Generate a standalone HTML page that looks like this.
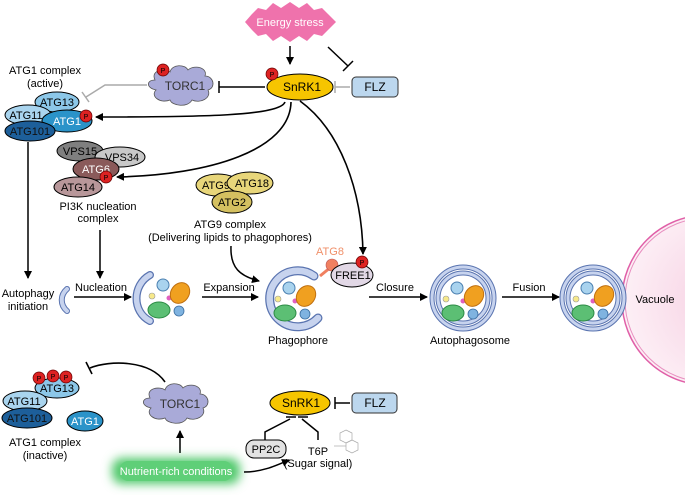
<!DOCTYPE html>
<html><head><meta charset="utf-8"><style>
body{margin:0;background:#fff}
svg{display:block;font-family:"Liberation Sans",Arial,sans-serif}
</style></head><body>
<svg width="685" height="495" viewBox="0 0 685 495" xmlns="http://www.w3.org/2000/svg">
<defs>
<marker id="ar" markerWidth="8" markerHeight="8" refX="7" refY="4" orient="auto" markerUnits="userSpaceOnUse"><path d="M0,0 L8,4 L0,8 z" fill="#000"/></marker>
<filter id="glow" x="-30%" y="-60%" width="160%" height="220%"><feGaussianBlur stdDeviation="5"/></filter>
<radialGradient id="vg" cx="0.6" cy="0.5" r="0.6"><stop offset="0" stop-color="#f6cfe2"/><stop offset="1" stop-color="#fdf0f6"/></radialGradient>
<g id="cargo">
<circle cx="-8" cy="-14" r="6" fill="#a9d3ee" stroke="#4a7fb0" stroke-width="1"/>
<circle cx="-19" cy="-3" r="3" fill="#f7e98a" stroke="#999" stroke-width="0.6"/>
<circle cx="-2" cy="-1" r="2.5" fill="#e060c0"/>
<ellipse cx="9" cy="-6" rx="9" ry="11" transform="rotate(35 9 -6)" fill="#f0a020" stroke="#c07010"/>
<ellipse cx="-12" cy="11" rx="11" ry="8" fill="#5cbf74" stroke="#2c8a44"/>
<circle cx="8" cy="12" r="5" fill="#7fb3e0" stroke="#3a6ea0" stroke-width="0.8"/>
</g>
<g id="ring">
<circle r="31" fill="none" stroke="#5a74b0" stroke-width="5"/>
<circle r="31" fill="none" stroke="#c7d3ee" stroke-width="3"/>
<circle r="25" fill="none" stroke="#5a74b0" stroke-width="5"/>
<circle r="25" fill="none" stroke="#c7d3ee" stroke-width="3"/>
</g>
</defs>

<!-- Energy stress -->
<path d="M245,22 L252,14 L258,8 L266,10 L273,3 L281,8 L290,2 L299,8 L307,3 L314,10 L322,8 L328,14 L336,22 L328,30 L322,36 L314,34 L307,41 L299,36 L290,42 L281,36 L273,41 L266,34 L258,36 L252,30 Z" fill="#ef72ac"/>
<text x="290" y="26" fill="#fff" font-size="11" text-anchor="middle">Energy stress</text>
<line x1="290" y1="46" x2="290" y2="64" stroke="#000" stroke-width="1.5" marker-end="url(#ar)"/>
<line x1="328" y1="47" x2="348" y2="66" stroke="#000" stroke-width="1.5"/>
<line x1="343" y1="71" x2="353" y2="61" stroke="#000" stroke-width="1.5"/>

<!-- SnRK1 top -->
<ellipse cx="300" cy="87" rx="33" ry="13" fill="#f6c500" stroke="#000"/>
<text x="302" y="91" font-size="12" text-anchor="middle">SnRK1</text>
<circle cx="272" cy="74" r="6" fill="#d22" stroke="#600" stroke-width=".7"/><text x="272" y="77" font-size="7" text-anchor="middle">P</text>
<rect x="352" y="77" width="46" height="20" rx="4" fill="#bcd7ee" stroke="#333"/>
<text x="375" y="91" font-size="12" text-anchor="middle">FLZ</text>
<line x1="350" y1="87" x2="335" y2="87" stroke="#aaa" stroke-width="1.5"/><line x1="335" y1="81" x2="335" y2="93" stroke="#aaa" stroke-width="1.5"/>

<!-- TORC1 top -->
<path d="M155,80 C150,70 165,68 170,72 C172,64 185,64 188,70 C195,64 208,68 205,76 C214,76 216,88 208,90 C212,98 200,104 192,100 C188,108 172,106 170,100 C160,104 150,96 156,90 C146,88 146,80 155,80 Z" fill="#a9aad8" stroke="#555" stroke-width=".8"/>
<text x="185" y="90" font-size="12" text-anchor="middle" fill="#333">TORC1</text>
<circle cx="163" cy="70" r="6" fill="#d22" stroke="#600" stroke-width=".7"/><text x="163" y="73" font-size="7" text-anchor="middle">P</text>
<line x1="265" y1="87" x2="219" y2="87" stroke="#000" stroke-width="1.5"/><line x1="219" y1="81" x2="219" y2="93" stroke="#000" stroke-width="1.5"/>
<polyline points="147,85 105,85 86,97" fill="none" stroke="#aaa" stroke-width="1.5"/><line x1="82" y1="92" x2="89" y2="102" stroke="#aaa" stroke-width="1.5"/>

<!-- ATG1 active -->
<text x="45" y="74" font-size="11" text-anchor="middle">ATG1 complex</text>
<text x="45" y="87" font-size="11" text-anchor="middle">(active)</text>
<ellipse cx="57" cy="102" rx="22" ry="10" fill="#8cc7e8" stroke="#000"/><text x="57" y="106" font-size="11" text-anchor="middle">ATG13</text>
<ellipse cx="28" cy="115" rx="23" ry="10" fill="#a9d4ee" stroke="#000"/><text x="26" y="119" font-size="11" text-anchor="middle">ATG11</text>
<ellipse cx="67" cy="121" rx="25" ry="11" fill="#2b93c9" stroke="#000"/><text x="67" y="125" font-size="11" fill="#fff" text-anchor="middle">ATG1</text>
<ellipse cx="30" cy="131" rx="25" ry="10" fill="#1d5f9a" stroke="#000"/><text x="30" y="135" font-size="11" text-anchor="middle" fill="#111">ATG101</text>
<circle cx="86" cy="116" r="6" fill="#d22" stroke="#600" stroke-width=".7"/><text x="86" y="119" font-size="7" text-anchor="middle">P</text>
<path d="M285,102 C280,116 200,117 96,117" fill="none" stroke="#000" stroke-width="1.6" marker-end="url(#ar)"/>

<!-- PI3K -->
<ellipse cx="80" cy="151" rx="23" ry="10" fill="#7f7f7f" stroke="#000"/><text x="80" y="155" font-size="11" text-anchor="middle">VPS15</text>
<ellipse cx="120" cy="157" rx="25" ry="10" fill="#c8c8c8" stroke="#000"/><text x="122" y="161" font-size="11" text-anchor="middle">VPS34</text>
<ellipse cx="96" cy="169" rx="23" ry="11" fill="#8a5a5a" stroke="#000"/><text x="96" y="173" font-size="11" fill="#fff" text-anchor="middle">ATG6</text>
<ellipse cx="78" cy="187" rx="24" ry="10" fill="#b8979a" stroke="#000"/><text x="78" y="191" font-size="11" text-anchor="middle">ATG14</text>
<circle cx="106" cy="177" r="6" fill="#d22" stroke="#600" stroke-width=".7"/><text x="106" y="180" font-size="7" text-anchor="middle">P</text>
<path d="M291,102 C290,150 210,175 117,177" fill="none" stroke="#000" stroke-width="1.6" marker-end="url(#ar)"/>
<text x="98" y="210" font-size="11" text-anchor="middle">PI3K nucleation</text>
<text x="98" y="222" font-size="11" text-anchor="middle">complex</text>

<!-- ATG9 -->
<ellipse cx="218" cy="185" rx="22" ry="11" fill="#e8d67a" stroke="#000"/><text x="216" y="189" font-size="11" text-anchor="middle">ATG9</text>
<ellipse cx="250" cy="183" rx="23" ry="11" fill="#e8d67a" stroke="#000"/><text x="252" y="187" font-size="11" text-anchor="middle">ATG18</text>
<ellipse cx="232" cy="202" rx="20" ry="11" fill="#d4c060" stroke="#000"/><text x="232" y="206" font-size="11" text-anchor="middle">ATG2</text>
<text x="230" y="228" font-size="11" text-anchor="middle">ATG9 complex</text>
<text x="230" y="241" font-size="11" text-anchor="middle">(Delivering lipids to phagophores)</text>
<path d="M231,246 C230,268 240,276 259,281" fill="none" stroke="#000" stroke-width="1.5" marker-end="url(#ar)"/>

<!-- SnRK1 -> FREE1 -->
<path d="M300,101 C340,130 362,190 363,254" fill="none" stroke="#000" stroke-width="1.6" marker-end="url(#ar)"/>

<!-- left verticals -->
<line x1="28" y1="142" x2="28" y2="278" stroke="#000" stroke-width="1.5" marker-end="url(#ar)"/>
<line x1="100" y1="230" x2="100" y2="278" stroke="#000" stroke-width="1.5" marker-end="url(#ar)"/>
<text x="28" y="297" font-size="11" text-anchor="middle">Autophagy</text>
<text x="28" y="310" font-size="11" text-anchor="middle">initiation</text>
<path d="M67,289 C60,295 60,305 67,311" fill="none" stroke="#5a74b0" stroke-width="6" stroke-linecap="round"/>
<path d="M67,289 C60,295 60,305 67,311" fill="none" stroke="#c7d3ee" stroke-width="4" stroke-linecap="round"/>
<text x="101" y="291" font-size="11" text-anchor="middle">Nucleation</text>
<line x1="74" y1="297" x2="131" y2="297" stroke="#000" stroke-width="1.5" marker-end="url(#ar)"/>

<!-- stage: crescent -->
<path d="M150,275 C132,285 132,312 150,321" fill="none" stroke="#5a74b0" stroke-width="8" stroke-linecap="round"/>
<path d="M150,275 C132,285 132,312 150,321" fill="none" stroke="#c7d3ee" stroke-width="5.5" stroke-linecap="round"/>
<use href="#cargo" x="171" y="299"/>
<text x="229" y="291" font-size="11" text-anchor="middle">Expansion</text>
<line x1="202" y1="297" x2="258" y2="297" stroke="#000" stroke-width="1.5" marker-end="url(#ar)"/>

<!-- Phagophore -->
<path d="M314,276 A28,28 0 1,0 318,318" fill="none" stroke="#5a74b0" stroke-width="9" stroke-linecap="round"/>
<path d="M314,276 A28,28 0 1,0 318,318" fill="none" stroke="#c7d3ee" stroke-width="6.5" stroke-linecap="round"/>
<use href="#cargo" x="297" y="302"/>
<text x="298" y="344" font-size="11" text-anchor="middle">Phagophore</text>
<line x1="320" y1="276" x2="331" y2="267" stroke="#f08060" stroke-width="3"/>
<circle cx="332" cy="265" r="6" fill="#f08060" stroke="#b55" stroke-width=".6"/>
<ellipse cx="352" cy="275" rx="21" ry="12" fill="#e2d8e6" stroke="#000"/><text x="353" y="279" font-size="11" text-anchor="middle">FREE1</text>
<circle cx="362" cy="262" r="6" fill="#d22" stroke="#600" stroke-width=".7"/><text x="362" y="265" font-size="7" text-anchor="middle">P</text>
<text x="330" y="255" font-size="11" text-anchor="middle" fill="#f0906a">ATG8</text>
<text x="395" y="291" font-size="11" text-anchor="middle">Closure</text>
<line x1="369" y1="297" x2="427" y2="297" stroke="#000" stroke-width="1.5" marker-end="url(#ar)"/>

<!-- Autophagosome -->
<use href="#ring" x="463" y="298"/>
<use href="#cargo" x="465" y="302"/>
<text x="470" y="344" font-size="11" text-anchor="middle">Autophagosome</text>
<text x="529" y="291" font-size="11" text-anchor="middle">Fusion</text>
<line x1="502" y1="297" x2="559" y2="297" stroke="#000" stroke-width="1.5" marker-end="url(#ar)"/>

<!-- Vacuole -->
<circle cx="707" cy="300" r="85" fill="url(#vg)" stroke="#e060a8" stroke-width="1.5"/>
<circle cx="707" cy="300" r="82" fill="none" stroke="#e890c0" stroke-width="1"/>
<circle cx="593" cy="298" r="33" fill="#fff"/>
<use href="#ring" x="593" y="298"/>
<use href="#cargo" x="595" y="302"/>
<text x="655" y="303" font-size="11" text-anchor="middle">Vacuole</text>

<!-- bottom ATG1 inactive -->
<ellipse cx="57" cy="388" rx="22" ry="10" fill="#8cc7e8" stroke="#000"/><text x="57" y="392" font-size="11" text-anchor="middle">ATG13</text>
<ellipse cx="25" cy="401" rx="22" ry="10" fill="#a9d4ee" stroke="#000"/><text x="24" y="405" font-size="11" text-anchor="middle">ATG11</text>
<ellipse cx="27" cy="418" rx="25" ry="10" fill="#1d5f9a" stroke="#000"/><text x="27" y="422" font-size="11" text-anchor="middle" fill="#111">ATG101</text>
<ellipse cx="85" cy="421" rx="18" ry="10" fill="#2b93c9" stroke="#000"/><text x="85" y="425" font-size="11" fill="#fff" text-anchor="middle">ATG1</text>
<circle cx="39" cy="378" r="6" fill="#d22" stroke="#600" stroke-width=".7"/><text x="39" y="381" font-size="7" text-anchor="middle">P</text>
<circle cx="53" cy="376" r="6" fill="#d22" stroke="#600" stroke-width=".7"/><text x="53" y="379" font-size="7" text-anchor="middle">P</text>
<circle cx="66" cy="377" r="6" fill="#d22" stroke="#600" stroke-width=".7"/><text x="66" y="380" font-size="7" text-anchor="middle">P</text>
<text x="45" y="446" font-size="11" text-anchor="middle">ATG1 complex</text>
<text x="45" y="459" font-size="11" text-anchor="middle">(inactive)</text>

<!-- TORC1 bottom -->
<g transform="translate(-5,318)">
<path d="M155,80 C150,70 165,68 170,72 C172,64 185,64 188,70 C195,64 208,68 205,76 C214,76 216,88 208,90 C212,98 200,104 192,100 C188,108 172,106 170,100 C160,104 150,96 156,90 C146,88 146,80 155,80 Z" fill="#a9aad8" stroke="#555" stroke-width=".8"/>
<text x="185" y="90" font-size="12" text-anchor="middle" fill="#333">TORC1</text>
</g>
<path d="M165,382 C150,360 110,360 90,368" fill="none" stroke="#000" stroke-width="1.6"/>
<line x1="86" y1="362" x2="92" y2="374" stroke="#000" stroke-width="1.6"/>
<line x1="180" y1="453" x2="180" y2="431" stroke="#000" stroke-width="1.5" marker-end="url(#ar)"/>

<!-- Nutrient -->
<rect x="112" y="458" width="128" height="26" rx="10" fill="#4fc86a" filter="url(#glow)"/>
<rect x="120" y="461" width="112" height="20" rx="8" fill="#5fcf78"/>
<text x="176" y="475" font-size="11" fill="#fff" text-anchor="middle">Nutrient-rich conditions</text>
<path d="M244,472 C262,472 275,466 289,460" fill="none" stroke="#000" stroke-width="1.5" marker-end="url(#ar)"/>

<!-- SnRK1 bottom -->
<ellipse cx="300" cy="403" rx="30" ry="12" fill="#f6c500" stroke="#000"/>
<text x="301" y="407" font-size="12" text-anchor="middle">SnRK1</text>
<rect x="352" y="393" width="45" height="20" rx="4" fill="#bcd7ee" stroke="#333"/>
<text x="375" y="407" font-size="12" text-anchor="middle">FLZ</text>
<line x1="350" y1="403" x2="335" y2="403" stroke="#000" stroke-width="1.5"/><line x1="335" y1="397" x2="335" y2="409" stroke="#000" stroke-width="1.5"/>
<polyline points="265,440 265,432 290,419" fill="none" stroke="#000" stroke-width="1.5"/><line x1="286" y1="417" x2="296" y2="417" stroke="#000" stroke-width="1.5"/>
<polyline points="318,440 318,432 302,419" fill="none" stroke="#000" stroke-width="1.5"/><line x1="298" y1="417" x2="308" y2="417" stroke="#000" stroke-width="1.5"/>
<rect x="246" y="440" width="40" height="18" rx="8" fill="#e2e2e2" stroke="#000"/>
<text x="266" y="453" font-size="11" text-anchor="middle">PP2C</text>
<text x="318" y="455" font-size="11" text-anchor="middle">T6P</text>
<text x="318" y="467" font-size="11" text-anchor="middle">(Sugar signal)</text>
<g stroke="#aaa" stroke-width=".7" fill="none">
<polygon points="346,430 352,433 352,440 346,443 340,440 340,433"/>
<polygon points="352,440 358,443 358,450 352,453 346,450 346,443"/>
<line x1="334" y1="446" x2="346" y2="446"/>
</g>
</svg>
</body></html>
